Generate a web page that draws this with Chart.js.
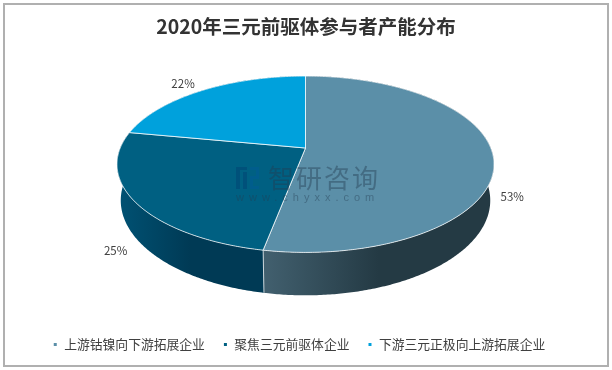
<!DOCTYPE html>
<html lang="zh">
<head>
<meta charset="utf-8">
<style>
	html, body { margin: 0; padding: 0; background: #fff; }
	#wrap { position: relative; width: 612px; height: 370px; }
	#frame { position: absolute; left: 3px; top: 3px; width: 602px; height: 360px; border: 2px solid #b0b0b0; pointer-events: none; }
	canvas { position: absolute; left: 0; top: 0; }
</style>
<script src="https://cdn.jsdelivr.net/npm/chart.js@4"></script>
</head>
<body>
<div id="wrap">
	<canvas id="pie" width="612" height="370"></canvas>
	<div id="frame"></div>
</div>
<script>
'use strict';

const categories = [ '上游钴镍向下游拓展企业', '聚焦三元前驱体企业', '下游三元正极向上游拓展企业' ];
const shareValues = [ 53, 25, 22 ];
const topColors = [ '#5b8fa8', '#006082', '#00a1dc' ];
const wallLeftColors = [ '#42606f', '#005274', '#00728f' ];
const wallRightColors = [ '#243a44', '#003a55', '#00506f' ];

const FONT = "'Noto Sans CJK SC', 'Noto Sans', sans-serif";

// perspective of the tilted disc, fitted to the reference
const view = { cx: 305.5, apexY: 148, radiusX: 185.3, radiusY: 85.2, tilt: 0.184, depth: 35, shrink: 0.98 };

function project( angle ) {
	const w = 1 - view.tilt * Math.sin( angle );
	return {
		x: view.cx + view.radiusX * Math.cos( angle ) / w,
		y: view.apexY + view.radiusY * Math.sin( angle ) / w,
		w: w,
	};
}

function below( p ) {
	return { x: view.cx + ( p.x - view.cx ) * view.shrink, y: p.y + view.depth / p.w };
}

function rimPoints( start, end ) {
	const steps = Math.max( 2, Math.ceil( ( end - start ) / 0.01 ) );
	const pts = [];
	for ( let i = 0; i <= steps; i++ ) {
		pts.push( project( start + ( end - start ) * i / steps ) );
	}
	return pts;
}

function drawWall( ctx, arc, i ) {
	const rim = rimPoints( arc.startAngle, arc.endAngle );
	const xs = rim.map( function ( p ) { return p.x; } );
	const left = Math.min.apply( null, xs );
	const right = Math.max.apply( null, xs );
	const grad = ctx.createLinearGradient( left, 0, left + ( right - left ) * 0.5, 0 );
	grad.addColorStop( 0, wallLeftColors[ i ] );
	grad.addColorStop( 1, wallRightColors[ i ] );

	ctx.beginPath();
	rim.forEach( function ( p, n ) { n ? ctx.lineTo( p.x, p.y ) : ctx.moveTo( p.x, p.y ); } );
	rim.slice().reverse().forEach( function ( p ) {
		const b = below( p );
		ctx.lineTo( b.x, b.y );
	} );
	ctx.closePath();
	ctx.fillStyle = grad;
	ctx.fill();
}

function drawWallEdge( ctx, angle ) {
	if ( Math.sin( angle ) <= 0 ) return;
	const p = project( angle );
	const b = below( p );
	ctx.beginPath();
	ctx.moveTo( p.x, p.y );
	ctx.lineTo( b.x, b.y );
	ctx.strokeStyle = 'rgba(255,255,255,0.7)';
	ctx.lineWidth = 1;
	ctx.stroke();
}

function drawTop( ctx, arc, i ) {
	ctx.beginPath();
	ctx.moveTo( view.cx, view.apexY );
	rimPoints( arc.startAngle, arc.endAngle ).forEach( function ( p ) { ctx.lineTo( p.x, p.y ); } );
	ctx.closePath();
	ctx.fillStyle = topColors[ i ];
	ctx.fill();
	ctx.strokeStyle = 'rgba(255,255,255,0.75)';
	ctx.lineWidth = 1;
	ctx.stroke();
}

function drawPercent( ctx, arc, i ) {
	const mid = ( arc.startAngle + arc.endAngle ) / 2;
	const p = project( mid );
	const front = Math.sin( mid );
	const dx = Math.cos( mid ) >= 0 ? 19 : -19;
	const dy = front > 0 ? 39 + front * 19 : -7;
	ctx.font = '11.5px ' + FONT;
	ctx.fillStyle = '#404040';
	ctx.textAlign = 'center';
	ctx.textBaseline = 'middle';
	ctx.fillText( shareValues[ i ] + '%', p.x + dx, p.y + dy );
}

function drawWatermark( ctx ) {
	ctx.save();
	ctx.fillStyle = 'rgba(0,60,110,0.4)';
	[ [ 236, 167, 11, 3 ], [ 236, 170, 4, 19 ], [ 243, 172, 4, 17 ] ].forEach( function ( r ) {
		ctx.fillRect( r[0], r[1], r[2], r[3] );
	} );
	ctx.fillStyle = 'rgba(0,90,160,0.35)';
	[ [ 250, 167, 9, 3 ], [ 256, 170, 3, 6 ], [ 250, 176, 9, 3 ], [ 250, 179, 3, 10 ], [ 253, 186, 6, 3 ] ].forEach( function ( r ) {
		ctx.fillRect( r[0], r[1], r[2], r[3] );
	} );
	ctx.fillStyle = 'rgba(35,60,80,0.42)';
	ctx.textAlign = 'left';
	ctx.textBaseline = 'middle';
	ctx.font = '26px ' + FONT;
	ctx.letterSpacing = '2px';
	ctx.fillText( '智研咨询', 268, 178 );
	ctx.font = '11px "Liberation Sans", sans-serif';
	ctx.letterSpacing = '5px';
	ctx.fillText( 'www.chyxx.com', 236, 198 );
	ctx.restore();
}

const tiltedPie = {
	id: 'tiltedPie',
	afterLayout: function ( chart ) {
		chart.legend.left -= 7;
		chart.legend.right -= 7;
	},
	beforeDatasetsDraw: function ( chart ) {
		const ctx = chart.ctx;
		const arcs = chart.getDatasetMeta( 0 ).data;
		ctx.save();
		arcs.forEach( function ( arc, i ) { drawWall( ctx, arc, i ); } );
		arcs.forEach( function ( arc ) { drawWallEdge( ctx, arc.endAngle ); } );
		arcs.forEach( function ( arc, i ) { drawTop( ctx, arc, i ); } );
		arcs.forEach( function ( arc, i ) { drawPercent( ctx, arc, i ); } );
		drawWatermark( ctx );
		ctx.restore();
		return false;
	},
};

new Chart( document.getElementById( 'pie' ), {
	type: 'pie',
	data: {
		labels: categories,
		datasets: [ {
			data: shareValues,
			backgroundColor: topColors,
		} ],
	},
	plugins: [ tiltedPie ],
	options: {
		responsive: false,
		animation: false,
		layout: { padding: { top: 13, bottom: 9 } },
		plugins: {
			tooltip: { enabled: false },
			title: {
				display: true,
				text: '2020年三元前驱体参与者产能分布',
				color: '#333333',
				font: { family: FONT, size: 19.5, weight: 'bold' },
				padding: { top: 2, bottom: 4 },
			},
			legend: {
				position: 'bottom',
				onClick: null,
				labels: {
					color: '#404040',
					boxWidth: 5,
					boxHeight: 5,
					padding: 18,
					font: { family: FONT, size: 12.8 },
				},
			},
		},
	},
} );
</script>
</body>
</html>
